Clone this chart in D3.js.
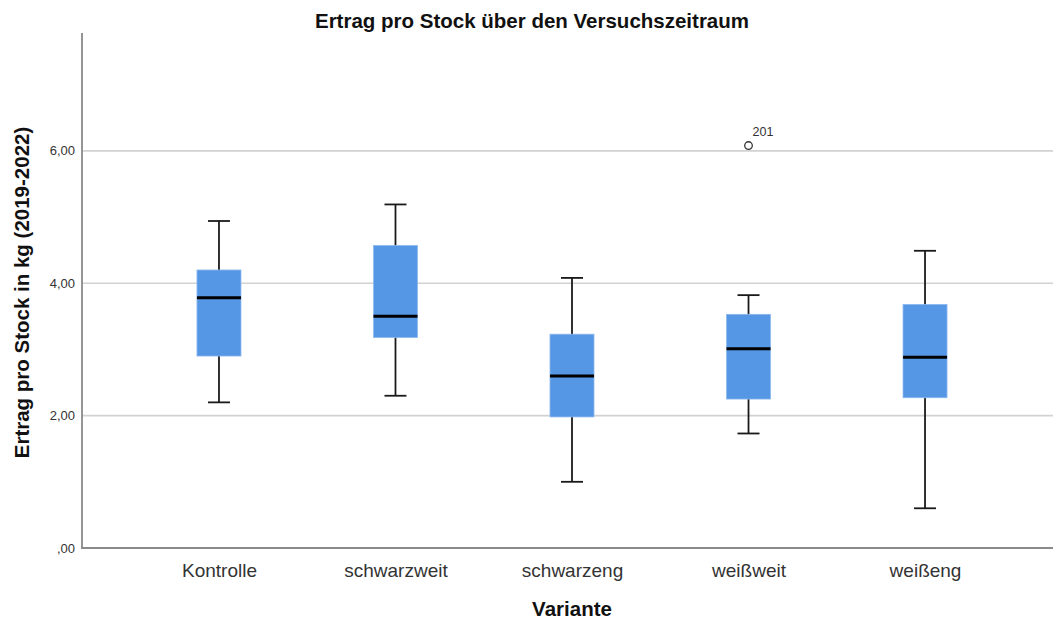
<!DOCTYPE html>
<html>
<head>
<meta charset="utf-8">
<script src="https://cdn.jsdelivr.net/npm/d3@7"></script>
<style>
  html, body { margin: 0; padding: 0; background: #fff; }
  svg { display: block; font-family: "Liberation Sans", Arial, sans-serif; }
</style>
</head>
<body>
<svg id="chart" width="1053" height="621"></svg>
<script>
// Box plot summary per variant (kg per vine, 2019-2022)
const categories = ["Kontrolle", "schwarzweit", "schwarzeng", "weißweit", "weißeng"];
const whiskerLow  = [2.20, 2.30, 1.00, 1.73, 0.60];
const q1          = [2.90, 3.18, 1.98, 2.25, 2.27];
const median      = [3.78, 3.50, 2.60, 3.01, 2.88];
const q3          = [4.20, 4.57, 3.23, 3.53, 3.68];
const whiskerHigh = [4.94, 5.19, 4.08, 3.82, 4.49];
// Outliers: category, value, case label
const outlierCategory = ["weißweit"];
const outlierValue    = [6.08];
const outlierLabel    = ["201"];
const yTicks = [0, 2, 4, 6];

const svg = d3.select("#chart");
const margin = { left: 82, top: 33, bottom: 73 };
const height = 621;
const plotBottom = height - margin.bottom;

const y = d3.scaleLinear().domain([0, 7.78]).range([plotBottom, margin.top]);
const x = d3.scalePoint().domain(categories).range([margin.left, 1062]).padding(0.776);

const boxW = 44, capW = 22;
const fmt = v => d3.format(".2f")(v).replace(".", ",").replace(/^0,/, ",");

// Grid lines
svg.append("g")
  .selectAll("line")
  .data(yTicks.filter(t => t > 0))
  .join("line")
  .attr("x1", margin.left).attr("x2", 1053)
  .attr("y1", d => y(d)).attr("y2", d => y(d))
  .attr("stroke", "#d2d2d2").attr("stroke-width", 1.6);

// Y axis
const yAxis = svg.append("g")
  .attr("transform", `translate(${margin.left},0)`)
  .call(d3.axisLeft(y).tickValues(yTicks).tickSize(0).tickPadding(7).tickFormat(fmt));
yAxis.select(".domain").remove();
yAxis.selectAll("text").attr("font-size", 13).attr("fill", "#333")
  .attr("font-family", "Liberation Sans, Arial, sans-serif");
svg.append("line")
  .attr("x1", margin.left).attr("x2", margin.left)
  .attr("y1", margin.top).attr("y2", plotBottom + 1)
  .attr("stroke", "#8a8a8a").attr("stroke-width", 1.8);

// X axis
const xAxis = svg.append("g")
  .attr("transform", `translate(0,${plotBottom})`)
  .call(d3.axisBottom(x).tickSize(0).tickPadding(0));
xAxis.select(".domain").remove();
xAxis.selectAll("text").attr("font-size", 19).attr("fill", "#333")
  .attr("dy", null).attr("y", 29)
  .attr("font-family", "Liberation Sans, Arial, sans-serif");
svg.append("line")
  .attr("x1", margin.left).attr("x2", 1053)
  .attr("y1", plotBottom).attr("y2", plotBottom)
  .attr("stroke", "#8a8a8a").attr("stroke-width", 1.8);

// Boxes
const rows = categories.map((c, i) => ({
  c, lo: whiskerLow[i], q1: q1[i], med: median[i], q3: q3[i], hi: whiskerHigh[i]
}));
const g = svg.append("g").selectAll("g").data(rows).join("g");

g.append("line") // whisker stem
  .attr("x1", d => x(d.c)).attr("x2", d => x(d.c))
  .attr("y1", d => y(d.lo)).attr("y2", d => y(d.hi))
  .attr("stroke", "#1a1a1a").attr("stroke-width", 1.8);
g.selectAll(".cap")
  .data(d => [{ c: d.c, v: d.lo }, { c: d.c, v: d.hi }])
  .join("line").attr("class", "cap")
  .attr("x1", d => x(d.c) - capW / 2).attr("x2", d => x(d.c) + capW / 2)
  .attr("y1", d => y(d.v)).attr("y2", d => y(d.v))
  .attr("stroke", "#1a1a1a").attr("stroke-width", 1.8);
g.append("rect")
  .attr("x", d => x(d.c) - boxW / 2).attr("width", boxW)
  .attr("y", d => y(d.q3)).attr("height", d => y(d.q1) - y(d.q3))
  .attr("fill", "#5596e5").attr("stroke", "#8db8ee").attr("stroke-width", 0.8);
g.append("line") // median
  .attr("x1", d => x(d.c) - boxW / 2).attr("x2", d => x(d.c) + boxW / 2)
  .attr("y1", d => y(d.med)).attr("y2", d => y(d.med))
  .attr("stroke", "#000").attr("stroke-width", 3);

// Outliers
const outliers = outlierCategory.map((c, i) => ({ c, v: outlierValue[i], label: outlierLabel[i] }));
svg.append("g").selectAll("circle").data(outliers).join("circle")
  .attr("cx", d => x(d.c)).attr("cy", d => y(d.v)).attr("r", 3.8)
  .attr("fill", "#fff").attr("stroke", "#333").attr("stroke-width", 1.3);
svg.append("g").selectAll("text").data(outliers).join("text")
  .attr("x", d => x(d.c) + 4).attr("y", d => y(d.v) - 10)
  .attr("font-size", 12.5).attr("fill", "#333").text(d => d.label);

// Titles
svg.append("text")
  .attr("x", 532).attr("y", 27.5).attr("text-anchor", "middle")
  .attr("font-size", 20.5).attr("font-weight", "bold").attr("fill", "#111")
  .text("Ertrag pro Stock über den Versuchszeitraum");
svg.append("text")
  .attr("x", 572).attr("y", 615.5).attr("text-anchor", "middle")
  .attr("font-size", 20.5).attr("font-weight", "bold").attr("fill", "#111")
  .text("Variante");
svg.append("text")
  .attr("transform", `translate(29,292.5) rotate(-90)`)
  .attr("text-anchor", "middle")
  .attr("font-size", 20.5).attr("font-weight", "bold").attr("fill", "#111")
  .text("Ertrag pro Stock in kg (2019-2022)");
</script>
</body>
</html>
